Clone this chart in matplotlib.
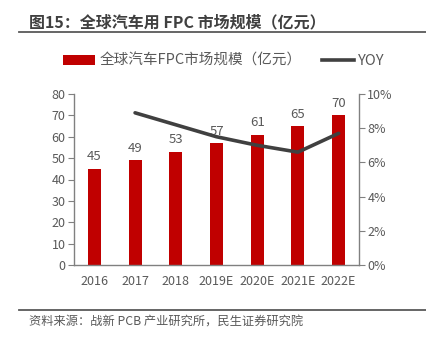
import matplotlib
matplotlib.use("Agg")
import matplotlib.pyplot as plt
from matplotlib.lines import Line2D
from matplotlib.patches import Patch

plt.rcParams['font.family'] = ['Noto Sans CJK SC', 'DejaVu Sans']

years = ["2016", "2017", "2018", "2019E", "2020E", "2021E", "2022E"]
market_size = [45, 49, 53, 57, 61, 65, 70]
yoy_years = ["2017", "2018", "2019E", "2020E", "2021E", "2022E"]
yoy_pct = [8.9, 8.2, 7.5, 7.0, 6.6, 7.7]

title = "图15：全球汽车用 FPC 市场规模（亿元）"
bar_label = "全球汽车FPC市场规模（亿元）"
line_label = "YOY"
source = "资料来源：战新 PCB 产业研究所，民生证券研究院"

RED = "#C00000"
LINE = "#404040"
TXT = "#595959"
AX = "#808080"

fig = plt.figure(figsize=(4.26, 3.41), dpi=100)
W, H = 426, 341
ax = fig.add_axes([74 / W, 1 - 265 / H, 285 / W, 171 / H])
x = list(range(len(years)))
ax.bar(x, market_size, width=0.32, color=RED, zorder=2)
for xi, v in zip(x, market_size):
    ax.text(xi, v + 2.5, str(v), ha="center", va="bottom", fontsize=9.5, color=TXT)

ax.set_xlim(-0.5, len(years) - 0.5)
ax.set_ylim(0, 80)
ax.set_yticks(range(0, 81, 10))
ax.set_xticks(x)
ax.set_xticklabels(years)
ax.tick_params(axis="x", length=0, pad=7, labelsize=9, colors=TXT)
ax.tick_params(axis="y", length=4, width=0.8, color=AX, labelsize=9, labelcolor=TXT, pad=2)
for s in ["top", "right"]:
    ax.spines[s].set_visible(False)
for s in ["left", "bottom"]:
    ax.spines[s].set_color(AX)
    ax.spines[s].set_linewidth(1.0)

ax2 = ax.twinx()
yx = [years.index(y) for y in yoy_years]
ax2.plot(yx, yoy_pct, color=LINE, linewidth=2.6, zorder=3, solid_capstyle="round")
ax2.set_ylim(0, 10)
ax2.set_yticks(range(0, 11, 2))
ax2.set_yticklabels([f"{t}%" for t in range(0, 11, 2)])
ax2.tick_params(axis="y", length=4, width=0.8, color=AX, labelsize=9, labelcolor=TXT, pad=2)
for s in ["top", "left", "bottom"]:
    ax2.spines[s].set_visible(False)
ax2.spines["right"].set_color(AX)
ax2.spines["right"].set_linewidth(1.0)

handles = [Patch(facecolor=RED, edgecolor="none"),
           Line2D([0], [0], color=LINE, linewidth=2.6)]
fig.legend(handles, [bar_label, line_label], loc="center",
           bbox_to_anchor=(224 / W, 1 - 61 / H), ncol=2, frameon=False,
           fontsize=10.5, labelcolor=TXT, handlelength=2.2, handletextpad=0.3,
           columnspacing=1.4)

fig.text(29 / W, 1 - 22 / H, title, ha="left", va="center", fontsize=11.5,
         fontweight="bold", color="#404040")
fig.add_artist(Line2D([19 / W, 1], [1 - 31.5 / H] * 2, color=TXT, linewidth=1.3))
fig.add_artist(Line2D([19 / W, 1], [1 - 310 / H] * 2, color=TXT, linewidth=1.3))
fig.text(29 / W, 1 - 322 / H, source, ha="left", va="center", fontsize=8.8, color=TXT)

fig.savefig("out.png", dpi=100)
